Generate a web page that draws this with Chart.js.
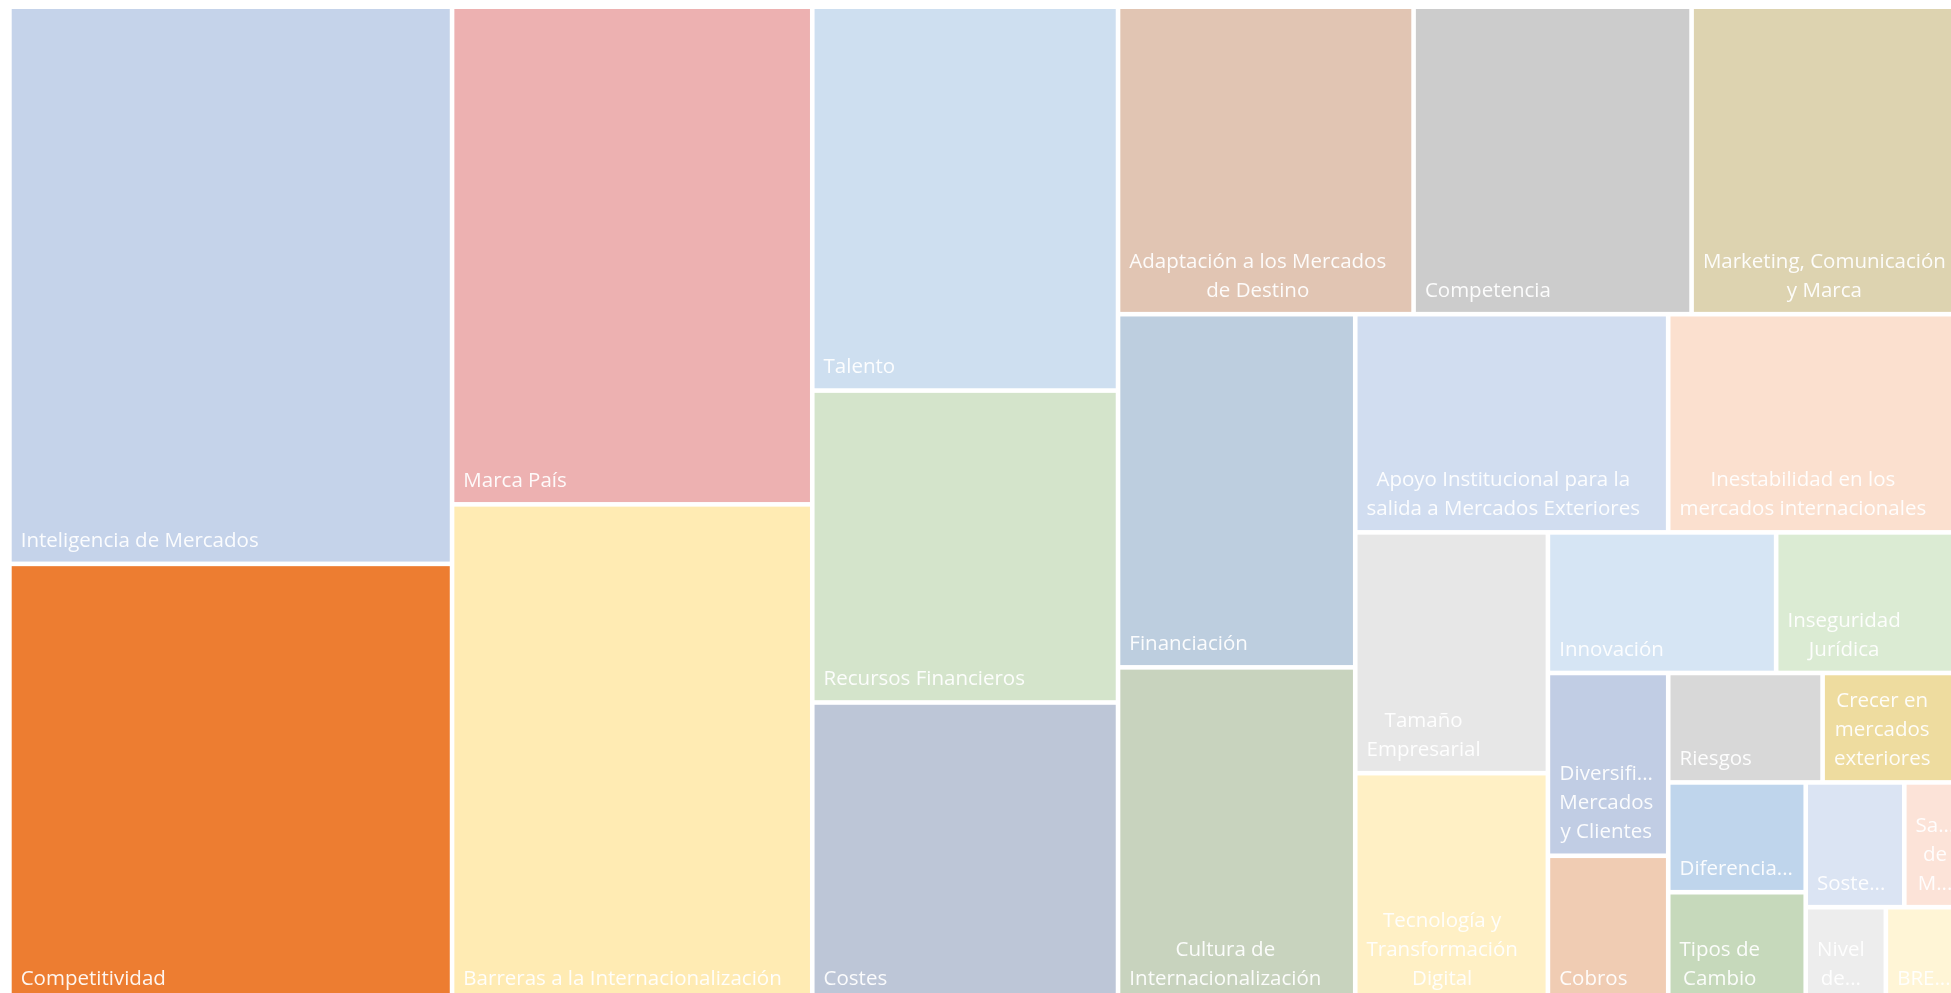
<!DOCTYPE html>
<html lang="es">
<head>
<meta charset="utf-8">
<title>Treemap</title>
<script src="https://cdn.jsdelivr.net/npm/chart.js@4.4.1/dist/chart.umd.min.js"></script>
<style>
  html, body { margin : 0; padding : 0; background : #ffffff; overflow : hidden; }
  #treemap { display : block; }
</style>
</head>
<body>
<canvas id="treemap" width="1970" height="1005"></canvas>
<script>
// categories, as the labels are wrapped in the picture
var categories = [
  'Inteligencia de Mercados',
  'Competitividad',
  'Marca País',
  'Barreras a la Internacionalización',
  'Talento',
  'Recursos Financieros',
  'Costes',
  'Adaptación a los Mercados\nde Destino',
  'Competencia',
  'Marketing, Comunicación\ny Marca',
  'Financiación',
  'Cultura de\nInternacionalización',
  'Apoyo Institucional para la\nsalida a Mercados Exteriores',
  'Inestabilidad en los\nmercados internacionales',
  'Tamaño\nEmpresarial',
  'Tecnología y\nTransformación\nDigital',
  'Innovación',
  'Inseguridad\nJurídica',
  'Diversifi...\nMercados\ny Clientes',
  'Cobros',
  'Riesgos',
  'Crecer en\nmercados\nexteriores',
  'Diferencia...',
  'Tipos de\nCambio',
  'Soste...',
  'Sa...\nde\nM...',
  'Nivel\nde...',
  'BRE...',
];

// relative weight of every cell
var values = [
  246.7, 194.0, 179.3, 179.3, 117.4, 95.4, 91.6, 90.9, 85.5, 84.4,
  83.8, 79.4, 68.3, 65.0, 46.4, 44.1, 32.1, 26.7, 22.0, 17.6,
  16.9, 15.7, 15.1, 15.1, 12.3, 7.7, 7.6, 7.6,
];

var colors = [
  '#C5D3EA', '#ED7D31', '#EDB1B1', '#FFEBB3', '#CEDFF0', '#D4E4CB', '#BDC6D7',
  '#E1C5B3', '#CCCCCC', '#DDD3B0', '#BDCEDF', '#C8D3BE', '#D1DDF0', '#FBE0CF',
  '#E7E7E7', '#FFF0C5', '#D6E5F4', '#DBEBD3', '#C1CDE4', '#F0CCB3', '#D8D8D8',
  '#EEDC9F', '#BFD5EC', '#C6D9BB', '#DBE4F3', '#FCE3D8', '#EDEDED', '#FFF5D6',
];

/**
 * worst aspect ratio of a row laid along a side
 */
function worst(row, side) {
  var sum = 0;
  var max = -Infinity;
  var min = Infinity;
  row.forEach(function (v) {
    sum += v;
    if (v > max) { max = v; }
    if (v < min) { min = v; }
  });
  var s2 = side * side;
  return Math.max((s2 * max) / (sum * sum), (sum * sum) / (s2 * min));
}

/**
 * squarified layout in a w x h box, returns the boxes in the input order
 */
function squarify(items, w, h) {
  var total = items.reduce(function (a, b) { return a + b.value; }, 0);
  var scale = (w * h) / total;
  var x = 0;
  var y = 0;
  var i = 0;
  var out = [];

  while (i < items.length) {
    var side = Math.min(w, h);
    var row = [items[i].value * scale];
    var best = worst(row, side);
    var j = i + 1;

    while (j < items.length) {
      var next = row.concat(items[j].value * scale);
      var ratio = worst(next, side);
      if (ratio > best) { break; }
      row = next;
      best = ratio;
      j++;
    }

    var sum = row.reduce(function (a, b) { return a + b; }, 0);
    var thick = sum / side;
    var offset = 0;

    for (var k = 0; k < row.length; k++) {
      var len = row[k] / thick;
      var item = items[i + k];
      if (w >= h) {
        out.push({ item : item, x : x, y : y + offset, w : thick, h : len });
      } else {
        out.push({ item : item, x : x + offset, y : y, w : len, h : thick });
      }
      offset += len;
    }

    if (w >= h) { x += thick; w -= thick; } else { y += thick; h -= thick; }
    i = j;
  }
  return out;
}

// draws the cells through the (hidden) linear scales
var treemapPlugin = {
  id : 'treemapCells',
  afterDatasetsDraw : function (chart) {
    var ctx = chart.ctx;
    var area = chart.chartArea;
    var xs = chart.scales.x;
    var ys = chart.scales.y;
    var W = area.right - area.left;
    var H = area.bottom - area.top;
    var gap = 2.3;

    var items = categories.map(function (label, idx) {
      return { label : label, value : values[idx], color : colors[idx] };
    });
    items.sort(function (a, b) { return b.value - a.value; });

    var boxes = squarify(items, W, H);

    ctx.save();
    boxes.forEach(function (b) {
      var left = xs.getPixelForValue(b.x / W) + gap;
      var right = xs.getPixelForValue((b.x + b.w) / W) - gap;
      var top = ys.getPixelForValue(b.y / H) + gap;
      var bottom = ys.getPixelForValue((b.y + b.h) / H) - gap;

      ctx.fillStyle = b.item.color;
      ctx.fillRect(left, top, right - left, bottom - top);

      // label: block sits bottom left, lines centred on each other
      ctx.save();
      ctx.beginPath();
      ctx.rect(left, top, right - left, bottom - top);
      ctx.clip();
      ctx.font = '20.5px "Open Sans"';
      ctx.fillStyle = 'rgba(255, 255, 255, 0.93)';
      ctx.textAlign = 'left';
      ctx.textBaseline = 'alphabetic';

      var lines = b.item.label.split('\n');
      var widths = lines.map(function (l) { return ctx.measureText(l).width; });
      var blockWidth = Math.max.apply(null, widths);
      var lineHeight = 29;

      lines.forEach(function (line, k) {
        var base = bottom - 15 - (lines.length - 1 - k) * lineHeight;
        ctx.fillText(line, left + 9 + (blockWidth - widths[k]) / 2, base);
      });
      ctx.restore();
    });
    ctx.restore();
  },
};

var chart = new Chart(document.getElementById('treemap').getContext('2d'), {
  type : 'scatter',
  data : { datasets : [{ data : [] }] },
  plugins : [treemapPlugin],
  options : {
    responsive : false,
    animation : false,
    events : [],
    layout : {
      padding : { left : 9.4, top : 6.7, right : 4, bottom : 3 },
    },
    scales : {
      x : { type : 'linear', min : 0, max : 1, display : false },
      y : { type : 'linear', min : 0, max : 1, reverse : true, display : false },
    },
    plugins : {
      legend : { display : false },
      tooltip : { enabled : false },
    },
  },
});
</script>
</body>
</html>
